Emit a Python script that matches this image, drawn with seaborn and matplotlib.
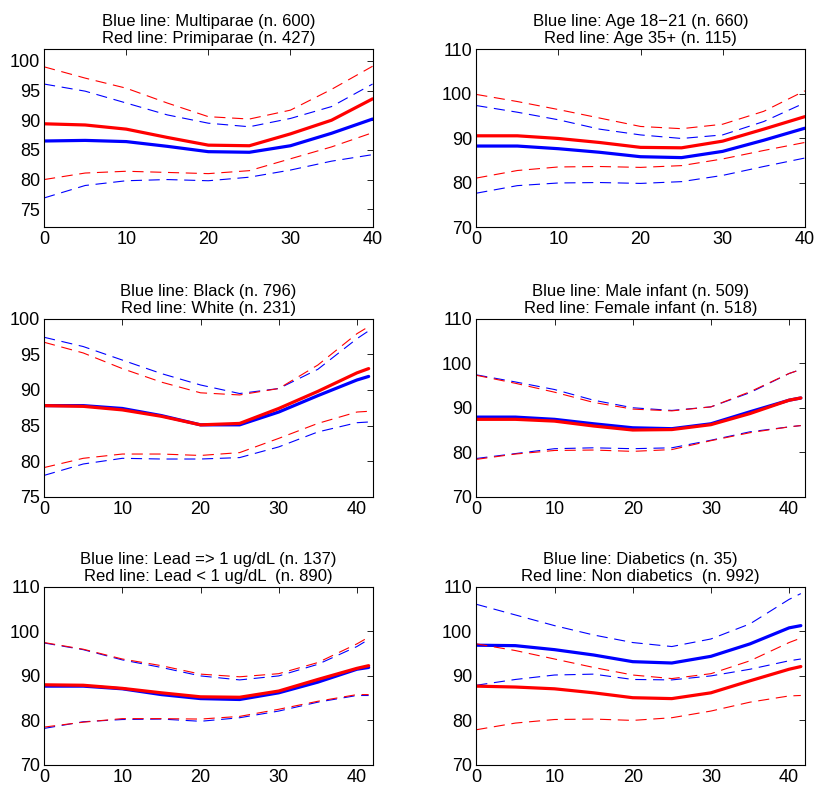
import matplotlib
matplotlib.use("Agg")
import matplotlib.pyplot as plt
import pandas as pd
import seaborn as sns

# x grids (weeks)
x40 = [0, 5, 10, 15, 20, 25, 30, 35, 40]
x42 = [0, 5, 10, 15, 20, 25, 30, 35, 40, 41.5]

# panel 1: parity
p1_titles = ["Blue line: Multiparae (n. 600)", "Red line: Primiparae (n. 427)"]
p1_blue = [86.5, 86.6, 86.4, 85.6, 84.7, 84.6, 85.7, 87.8, 90.2]
p1_blue_hi = [96.1, 94.9, 92.9, 90.9, 89.5, 88.9, 90.3, 92.3, 96.1]
p1_blue_lo = [76.9, 79.0, 79.8, 80.0, 79.8, 80.4, 81.6, 83.1, 84.2]
p1_red = [89.4, 89.2, 88.5, 87.1, 85.8, 85.7, 87.7, 90.0, 93.6]
p1_red_hi = [99.0, 97.1, 95.4, 92.9, 90.6, 90.2, 91.7, 95.2, 99.1]
p1_red_lo = [80.0, 81.1, 81.4, 81.2, 81.0, 81.5, 83.5, 85.5, 87.9]

# panel 2: age
p2_titles = ["Blue line: Age 18\u221221 (n. 660)", "Red line: Age 35+ (n. 115)"]
p2_blue = [88.2, 88.2, 87.6, 86.8, 85.8, 85.6, 87.0, 89.5, 92.2]
p2_blue_hi = [97.3, 95.8, 94.1, 92.0, 90.7, 89.9, 90.7, 93.7, 97.9]
p2_blue_lo = [77.6, 79.3, 79.9, 80.0, 79.8, 80.2, 81.6, 83.6, 85.5]
p2_red = [90.5, 90.5, 89.9, 89.0, 87.9, 87.8, 89.3, 92.0, 94.8]
p2_red_hi = [99.8, 98.2, 96.4, 94.5, 92.6, 92.1, 93.1, 96.0, 100.6]
p2_red_lo = [81.0, 82.7, 83.5, 83.6, 83.4, 83.8, 85.3, 87.2, 89.0]

# panel 3: race
p3_titles = ["Blue line: Black (n. 796)", "Red line: White (n. 231)"]
p3_blue = [87.8, 87.8, 87.4, 86.4, 85.1, 85.1, 86.9, 89.2, 91.4, 91.9]
p3_blue_hi = [97.4, 96.1, 94.2, 92.3, 90.7, 89.5, 90.2, 92.9, 97.2, 98.3]
p3_blue_lo = [78.0, 79.6, 80.4, 80.3, 80.3, 80.5, 82.0, 84.1, 85.4, 85.5]
p3_red = [87.8, 87.7, 87.2, 86.3, 85.1, 85.3, 87.4, 89.8, 92.4, 93.0]
p3_red_hi = [96.7, 95.2, 93.0, 91.1, 89.6, 89.3, 90.2, 93.5, 97.9, 98.9]
p3_red_lo = [79.1, 80.4, 81.0, 81.0, 80.8, 81.2, 83.2, 85.3, 86.9, 87.0]

# panel 4: infant sex
p4_titles = ["Blue line: Male infant (n. 509)", "Red line: Female infant (n. 518)"]
p4_blue = [87.9, 87.9, 87.4, 86.4, 85.5, 85.3, 86.4, 89.1, 91.7, 92.2]
p4_blue_hi = [97.4, 95.8, 94.1, 91.7, 90.0, 89.4, 90.2, 93.4, 97.7, 98.6]
p4_blue_lo = [78.6, 79.7, 80.8, 81.0, 80.8, 81.0, 82.7, 84.6, 85.7, 86.0]
p4_red = [87.4, 87.4, 87.0, 85.9, 85.0, 85.1, 86.2, 88.7, 91.7, 92.2]
p4_red_hi = [97.3, 95.5, 93.5, 91.2, 89.7, 89.3, 90.2, 93.6, 97.7, 98.6]
p4_red_lo = [78.4, 79.6, 80.4, 80.5, 80.2, 80.6, 82.6, 84.4, 85.7, 86.0]

# panel 5: lead
p5_titles = ["Blue line: Lead => 1 ug/dL (n. 137)", "Red line: Lead < 1 ug/dL  (n. 890)"]
p5_blue = [87.7, 87.7, 87.1, 85.8, 84.9, 84.7, 86.2, 88.6, 91.5, 91.9]
p5_blue_hi = [97.4, 95.9, 93.6, 91.9, 90.0, 89.1, 90.0, 92.6, 96.6, 98.2]
p5_blue_lo = [78.2, 79.7, 80.2, 80.3, 79.8, 80.6, 82.1, 84.1, 85.6, 85.6]
p5_red = [88.0, 87.9, 87.2, 86.2, 85.3, 85.2, 86.6, 89.2, 91.7, 92.3]
p5_red_hi = [97.5, 96.0, 93.8, 92.3, 90.4, 89.8, 90.5, 93.0, 97.2, 98.7]
p5_red_lo = [78.5, 79.6, 80.4, 80.4, 80.3, 80.9, 82.5, 84.3, 85.8, 85.8]

# panel 6: diabetes
p6_titles = ["Blue line: Diabetics (n. 35)", "Red line: Non diabetics  (n. 992)"]
p6_blue = [96.9, 96.8, 95.9, 94.7, 93.2, 92.9, 94.4, 97.2, 100.8, 101.3]
p6_blue_hi = [106.1, 103.7, 101.3, 99.2, 97.5, 96.6, 98.3, 101.7, 107.2, 108.5]
p6_blue_lo = [87.9, 89.2, 90.2, 90.4, 89.2, 89.1, 90.0, 91.5, 93.4, 93.8]
p6_red = [87.7, 87.5, 87.1, 86.2, 85.1, 84.9, 86.2, 88.9, 91.5, 92.1]
p6_red_hi = [97.2, 95.7, 93.8, 91.9, 90.2, 89.4, 90.5, 93.4, 97.5, 98.5]
p6_red_lo = [77.9, 79.4, 80.2, 80.3, 80.0, 80.6, 82.1, 84.1, 85.5, 85.6]

panels = [
    (x40, p1_titles, p1_blue, p1_blue_hi, p1_blue_lo, p1_red, p1_red_hi, p1_red_lo, (0, 40), (72, 102), [75, 80, 85, 90, 95, 100]),
    (x40, p2_titles, p2_blue, p2_blue_hi, p2_blue_lo, p2_red, p2_red_hi, p2_red_lo, (0, 40), (70, 110), [70, 80, 90, 100, 110]),
    (x42, p3_titles, p3_blue, p3_blue_hi, p3_blue_lo, p3_red, p3_red_hi, p3_red_lo, (0, 42), (75, 100), [75, 80, 85, 90, 95, 100]),
    (x42, p4_titles, p4_blue, p4_blue_hi, p4_blue_lo, p4_red, p4_red_hi, p4_red_lo, (0, 42), (70, 110), [70, 80, 90, 100, 110]),
    (x42, p5_titles, p5_blue, p5_blue_hi, p5_blue_lo, p5_red, p5_red_hi, p5_red_lo, (0, 42), (70, 110), [70, 80, 90, 100, 110]),
    (x42, p6_titles, p6_blue, p6_blue_hi, p6_blue_lo, p6_red, p6_red_hi, p6_red_lo, (0, 42), (70, 110), [70, 80, 90, 100, 110]),
]

sns.set_style("white")
plt.rcParams['font.family'] = ['Liberation Sans', 'DejaVu Sans']
plt.rcParams['xtick.direction'] = 'in'
plt.rcParams['ytick.direction'] = 'in'
plt.rcParams['text.color'] = 'black'

fig = plt.figure(figsize=(8.17, 7.91), dpi=100)
lefts = [0.054, 0.583]
bottoms = [0.713, 0.372, 0.033]
W, H = 0.402, 0.225

dash = (0, (10, 6))
for i, (xs, titles, b, bhi, blo, r, rhi, rlo, xl, yl, yt) in enumerate(panels):
    ax = fig.add_axes([lefts[i % 2], bottoms[i // 2], W, H])
    df = pd.DataFrame({"x": xs, "b": b, "bhi": bhi, "blo": blo, "r": r, "rhi": rhi, "rlo": rlo})
    sns.lineplot(data=df, x="x", y="b", ax=ax, color="blue", lw=2.3)
    sns.lineplot(data=df, x="x", y="bhi", ax=ax, color="blue", lw=0.8, linestyle=dash)
    sns.lineplot(data=df, x="x", y="blo", ax=ax, color="blue", lw=0.8, linestyle=dash)
    sns.lineplot(data=df, x="x", y="r", ax=ax, color="red", lw=2.3)
    sns.lineplot(data=df, x="x", y="rhi", ax=ax, color="red", lw=0.8, linestyle=dash)
    sns.lineplot(data=df, x="x", y="rlo", ax=ax, color="red", lw=0.8, linestyle=dash)
    ax.set_xlim(*xl)
    ax.set_ylim(*yl)
    ax.set_xticks([0, 10, 20, 30, 40])
    ax.set_yticks(yt)
    ax.set_xlabel("")
    ax.set_ylabel("")
    ax.set_title(titles[0] + "\n" + titles[1], fontsize=12, linespacing=1.2,
                 pad=4, color="black")
    ax.tick_params(labelsize=13, top=True, right=True, length=4, width=0.6, pad=3,
                   colors="black")
    for s in ax.spines.values():
        s.set_color("black")
        s.set_linewidth(0.8)

fig.savefig("out.png", dpi=100)
